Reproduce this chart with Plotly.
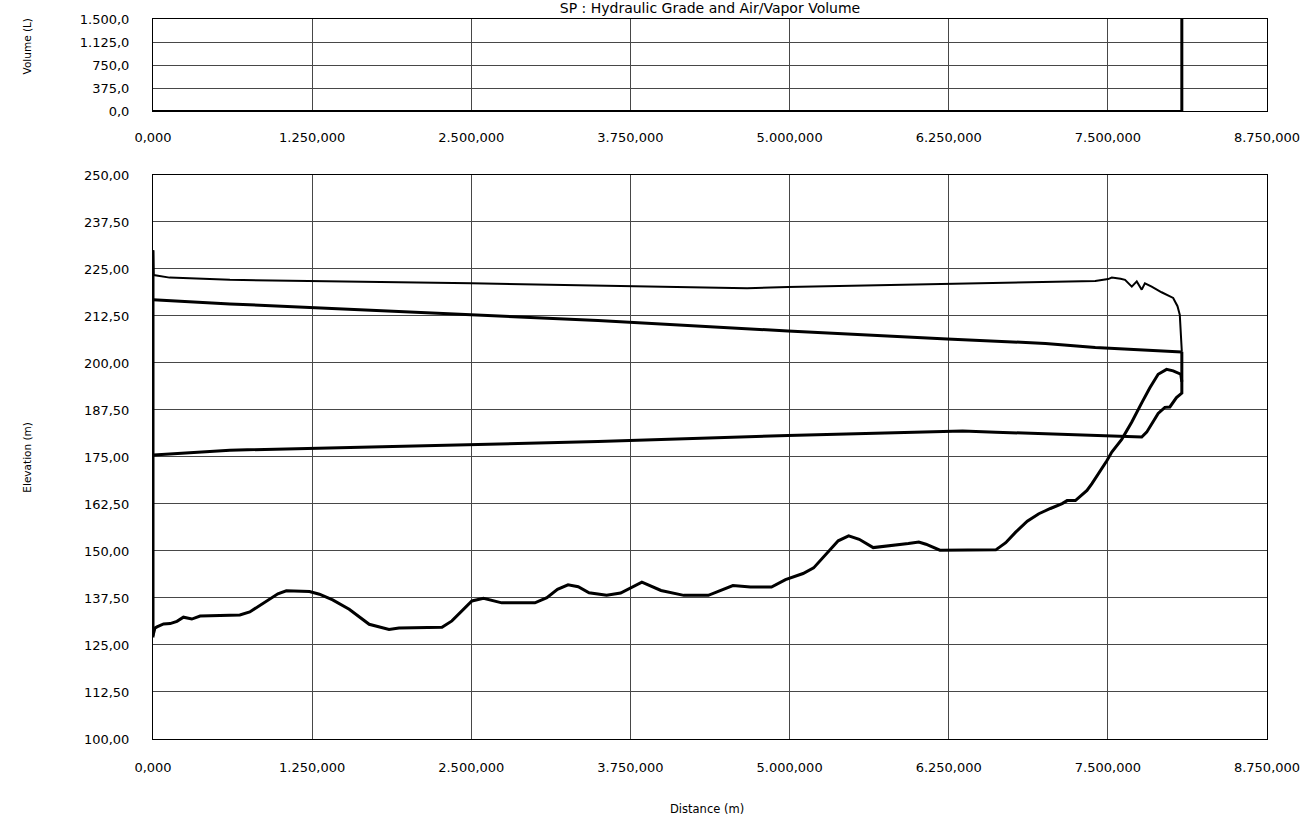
import plotly.graph_objects as go

# ---------------- data ----------------
# Distance axis (m)
dist_ticks = [0, 1250, 2500, 3750, 5000, 6250, 7500, 8750]

# Air/vapor volume (L) along the pipeline
vol_x = [0, 8075, 8081, 8081]
vol_y = [0, 0, 0, 1500]

# Upstream reservoir / node vertical
res_x = [0, 0]
res_y = [127, 230]

# Maximum hydraulic grade (m)
hmax_x = [0, 5, 130, 604, 2500, 3495, 4666, 4987, 6237, 7010, 7401, 7502, 7531,
          7600, 7635, 7688, 7727, 7766, 7791, 7844, 7922, 8013, 8047, 8065, 8081]
hmax_y = [230, 223.4, 222.7, 222.1, 221.2, 220.6, 219.9, 220.2, 221.1, 221.7, 221.8,
          222.3, 222.7, 222.4, 222.1, 220.3, 221.7, 219.5, 221.2, 220.3, 218.8,
          217.3, 215.1, 212.8, 203.0]

# Steady-state hydraulic grade (m)
hst_x = [0, 604, 3495, 4987, 6237, 7010, 7401, 8081]
hst_y = [216.8, 215.7, 211.3, 208.5, 206.4, 205.2, 204.1, 202.9]

# Minimum hydraulic grade (m)
hmin_x = [0, 5, 604, 3495, 4987, 6237, 6359, 6620, 7010, 7401, 7766, 7805, 7895,
          7948, 7987, 8039, 8073, 8081, 8081]
hmin_y = [175.5, 175.5, 176.8, 179.1, 180.7, 181.9, 181.9, 181.6, 181.2, 180.8,
          180.3, 181.6, 186.6, 188.2, 188.3, 190.8, 191.6, 192.0, 203.0]

# Pipeline ground elevation profile (m)
ground_x = [0, 15, 31, 83, 135, 188, 239, 305, 370, 500, 682, 760, 891, 981, 1047,
            1229, 1307, 1411, 1541, 1698, 1854, 1932, 2270, 2348, 2505, 2596, 2739,
            3000, 3094, 3177, 3260, 3340, 3425, 3563, 3673, 3840, 3990, 4169, 4362,
            4555, 4693, 4858, 4968, 5106, 5189, 5299, 5382, 5464, 5547, 5657, 5823,
            5933, 6015, 6071, 6181, 6291, 6620, 6698, 6776, 6867, 6958, 7049, 7141,
            7180, 7245, 7336, 7375, 7492, 7531, 7609, 7688, 7766, 7830, 7895, 7961,
            8013, 8073, 8081]
ground_y = [127.5, 129.5, 129.8, 130.6, 130.7, 131.3, 132.4, 131.9, 132.7, 132.9,
            133.0, 133.8, 136.7, 138.6, 139.4, 139.2, 138.5, 137.0, 134.5, 130.5,
            129.1, 129.5, 129.7, 131.4, 136.7, 137.4, 136.2, 136.2, 137.6, 139.8,
            141.0, 140.5, 138.9, 138.2, 138.8, 141.7, 139.5, 138.2, 138.2, 140.8,
            140.4, 140.4, 142.4, 144.0, 145.5, 149.6, 152.7, 154.0, 153.1, 150.9,
            151.5, 152.0, 152.4, 151.8, 150.2, 150.2, 150.3, 152.2, 155.0, 157.9,
            159.9, 161.3, 162.6, 163.4, 163.4, 166.1, 167.9, 174.0, 176.3, 179.7,
            184.3, 189.4, 193.4, 197.0, 198.3, 197.9, 197.0, 195.0]

title_text = "SP : Hydraulic Grade and Air/Vapor Volume"

# ---------------- figure ----------------
FONT = "DejaVu Sans"
GRID = "#474747"

fig = go.Figure()

fig.add_trace(go.Scatter(x=vol_x, y=vol_y, xaxis="x", yaxis="y", mode="lines",
                         line=dict(color="black", width=3), name="Volume"))

for xs, ys, w, nm in [(res_x, res_y, 3, "Reservoir"),
                      (hmax_x, hmax_y, 2, "Max HGL"),
                      (hst_x, hst_y, 3, "Steady HGL"),
                      (hmin_x, hmin_y, 3, "Min HGL"),
                      (ground_x, ground_y, 3, "Elevation")]:
    fig.add_trace(go.Scatter(x=xs, y=ys, xaxis="x2", yaxis="y2", mode="lines",
                             line=dict(color="black", width=w), name=nm))

common_x = dict(range=[0, 8750], tick0=0, dtick=1250, tickformat=",.3f",
                showgrid=True, gridcolor=GRID, gridwidth=1, zeroline=False,
                showline=True, mirror=True, linecolor="black", linewidth=1,
                ticks="outside", tickcolor="rgba(0,0,0,0)",
                tickfont=dict(family=FONT, size=13, color="black"))

fig.update_layout(
    width=1312, height=818,
    margin=dict(l=153, r=39, t=14, b=79),
    paper_bgcolor="white", plot_bgcolor="white",
    separators=",.",
    showlegend=False,
    font=dict(family=FONT, color="black"),
    title=dict(text=title_text, x=0.5, xanchor="center", xref="paper",
               yref="container", y=0.9895, yanchor="middle",
               font=dict(family=FONT, size=14, color="black")),
    xaxis=dict(anchor="y", domain=[0, 1], ticklen=14, **common_x),
    yaxis=dict(anchor="x", domain=[0.8717, 1.0], range=[0, 1500], tick0=0, dtick=375,
               tickformat=",.1f", showgrid=True, gridcolor=GRID, gridwidth=1,
               zeroline=False, showline=True, mirror=True, linecolor="black",
               linewidth=1, ticks="outside", ticklen=20, tickcolor="rgba(0,0,0,0)",
               tickfont=dict(family=FONT, size=13, color="black")),
    xaxis2=dict(anchor="y2", domain=[0, 1], ticklen=16, **common_x),
    yaxis2=dict(anchor="x2", domain=[0, 0.7834], range=[100, 250], tick0=100,
                dtick=12.5, tickformat=".2f", showgrid=True, gridcolor=GRID,
                gridwidth=1, zeroline=False, showline=True, mirror=True,
                linecolor="black", linewidth=1, ticks="outside", ticklen=20,
                tickcolor="rgba(0,0,0,0)",
                tickfont=dict(family=FONT, size=13, color="black")),
    annotations=[
        dict(text="Volume (L)", xref="paper", yref="paper", x=-0.1134, y=0.9614,
             xanchor="center", yanchor="middle", textangle=-90, showarrow=False,
             font=dict(family=FONT, size=10.5, color="black")),
        dict(text="Elevation (m)", xref="paper", yref="paper", x=-0.1134, y=0.3917,
             xanchor="center", yanchor="middle", textangle=-90, showarrow=False,
             font=dict(family=FONT, size=10.5, color="black")),
        dict(text="Distance (m)", xref="paper", yref="paper", x=0.497, y=-0.0979,
             xanchor="center", yanchor="middle", showarrow=False,
             font=dict(family=FONT, size=11.5, color="black")),
    ],
)

fig.write_html("out.html")
